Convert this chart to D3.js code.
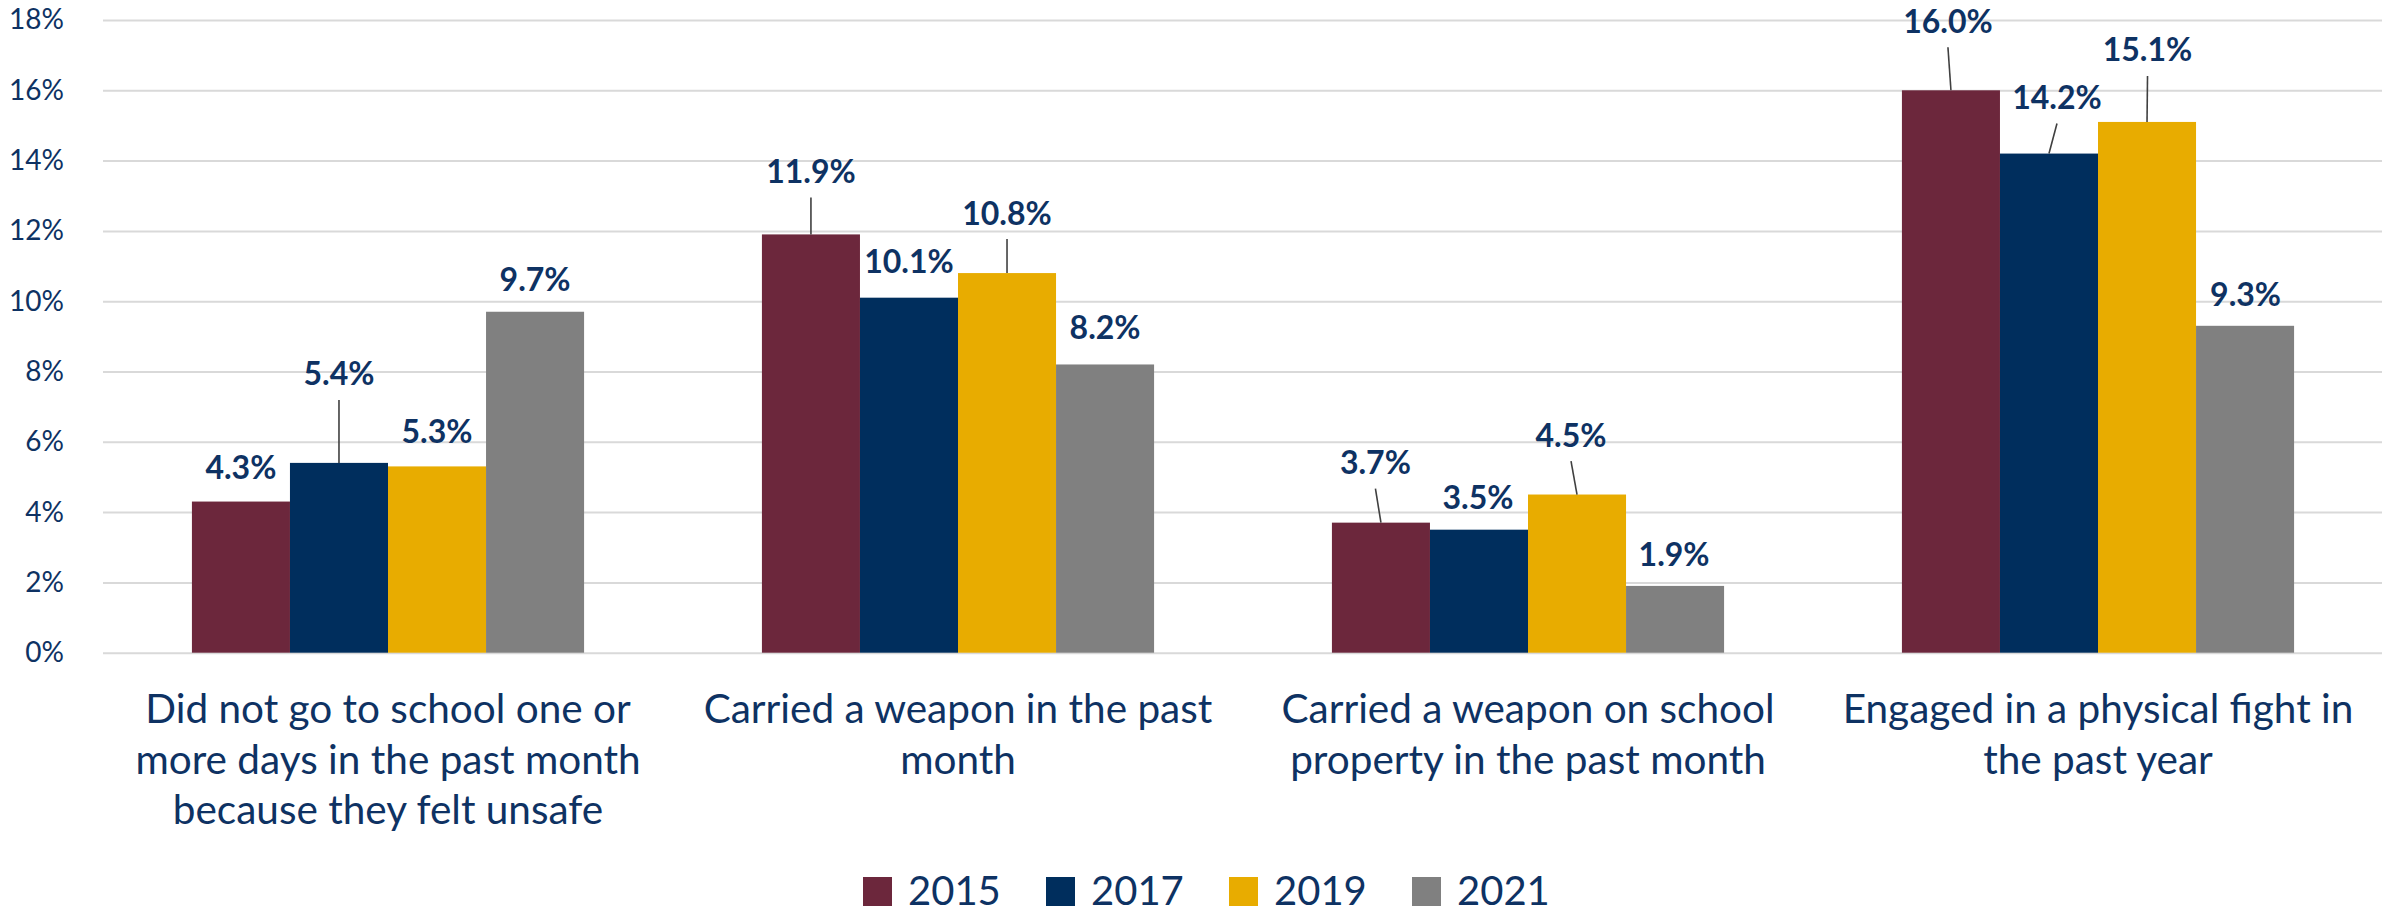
<!DOCTYPE html>
<html>
<head>
<meta charset="utf-8">
<script src="https://cdn.jsdelivr.net/npm/d3@7"></script>
<style>
  html, body { margin: 0; padding: 0; background: #ffffff; }
  svg { display: block; font-family: Lato, "Open Sans", sans-serif; }
</style>
</head>
<body>
<svg id="chart" width="2382" height="923"></svg>
<script>
// ---- data ----
const categoryLines = [
  ["Did not go to school one or", "more days in the past month", "because they felt unsafe"],
  ["Carried a weapon in the past", "month"],
  ["Carried a weapon on school", "property in the past month"],
  ["Engaged in a physical fight in", "the past year"]
];
const categories = categoryLines.map(l => l.join(" "));
const years = ["2015", "2017", "2019", "2021"];
const values2015 = [4.3, 11.9, 3.7, 16.0];
const values2017 = [5.4, 10.1, 3.5, 14.2];
const values2019 = [5.3, 10.8, 4.5, 15.1];
const values2021 = [9.7, 8.2, 1.9, 9.3];
const yTicks = [0, 2, 4, 6, 8, 10, 12, 14, 16, 18];

// ---- styling / layout ----
const seriesValues = { "2015": values2015, "2017": values2017, "2019": values2019, "2021": values2021 };
const colors = { "2015": "#6C273C", "2017": "#002E5D", "2019": "#E8AC00", "2021": "#808080" };
const textColor = "#0E3263";
// manual label nudges (px) [dx, dy of label centre relative to bar top], as in the original
const labelNudge = {
  "2015": [[0, -34], [0, -63], [-5.5, -60], [-3, -69]],
  "2017": [[0, -89], [0, -36], [-1, -32], [8, -56]],
  "2019": [[0, -35], [0, -60], [-6, -59.5], [0.5, -72]],
  "2021": [[0, -32], [0, -36.5], [-1, -31.5], [0.5, -31.5]]
};

const svg = d3.select("#chart");
const plotLeft = 103, plotRight = 2383, plotTop = 20, plotBottom = 652.7;

const x0 = d3.scaleBand().domain(categories).range([plotLeft, plotRight]).padding(0);
const bw = x0.bandwidth();
const x1 = d3.scaleBand().domain(years).range([bw * 0.156, bw * 0.844]).padding(0);
const y = d3.scaleLinear().domain([0, 18]).range([plotBottom, plotTop]);

// gridlines + y axis
const yAxis = d3.axisLeft(y)
  .tickValues(yTicks)
  .tickFormat(d => d + "%")
  .tickSizeInner(-(plotRight - plotLeft))
  .tickSizeOuter(0)
  .tickPadding(39);
const gy = svg.append("g").attr("transform", `translate(${plotLeft},0)`).call(yAxis);
gy.select(".domain").remove();
gy.selectAll(".tick line").attr("stroke", "#D9D9D9").attr("stroke-width", 2);
gy.selectAll(".tick text")
  .attr("fill", textColor)
  .style("font-family", "Lato, sans-serif")
  .style("font-size", "28px");

// bars
const groups = svg.append("g").selectAll("g")
  .data(categories)
  .join("g")
  .attr("transform", d => `translate(${x0(d)},0)`);

groups.selectAll("rect")
  .data((c, i) => years.map(yr => ({ yr, v: seriesValues[yr][i], i })))
  .join("rect")
  .attr("x", d => x1(d.yr))
  .attr("y", d => y(d.v))
  .attr("width", x1.bandwidth())
  .attr("height", d => y(0) - y(d.v))
  .attr("fill", d => colors[d.yr]);

// leader lines and data labels
const labelData = [];
categories.forEach((c, i) => {
  years.forEach(yr => {
    const v = seriesValues[yr][i];
    const [dx, dy] = labelNudge[yr][i];
    const bx = x0(c) + x1(yr) + x1.bandwidth() / 2;
    const by = y(v);
    labelData.push({ v, bx, by, lx: bx + dx, ly: by + dy, leader: dy < -45 });
  });
});

svg.append("g").selectAll("line")
  .data(labelData.filter(d => d.leader))
  .join("line")
  .attr("x1", d => d.lx)
  .attr("y1", d => d.ly + 26)
  .attr("x2", d => d.bx)
  .attr("y2", d => d.by)
  .attr("stroke", "#404040")
  .attr("stroke-width", 1.6);

svg.append("g").selectAll("text")
  .data(labelData)
  .join("text")
  .attr("x", d => d.lx)
  .attr("y", d => d.ly)
  .attr("dy", "0.36em")
  .attr("text-anchor", "middle")
  .attr("fill", textColor)
  .style("font-family", "Lato, sans-serif")
  .style("font-weight", "bold")
  .style("font-size", "32px")
  .text(d => d.v.toFixed(1) + "%");

// category labels
const lineY0 = 709, lineGap = 50.5;
svg.append("g").selectAll("text")
  .data(categories)
  .join("text")
  .attr("x", d => x0(d) + bw / 2)
  .attr("y", lineY0)
  .attr("text-anchor", "middle")
  .attr("fill", textColor)
  .style("font-family", "Lato, sans-serif")
  .style("font-size", "40.5px")
  .each(function (d, i) {
    d3.select(this).selectAll("tspan")
      .data(categoryLines[i])
      .join("tspan")
      .attr("x", x0(d) + bw / 2)
      .attr("y", (t, j) => lineY0 + j * lineGap)
      .attr("dy", "0.35em")
      .text(t => t);
  });

// legend
const legendX = d3.scalePoint().domain(years).range([863, 1412]);
const lg = svg.append("g").selectAll("g")
  .data(years)
  .join("g")
  .attr("transform", d => `translate(${legendX(d)},891)`);
lg.append("rect")
  .attr("x", 0).attr("y", -14)
  .attr("width", 29).attr("height", 29)
  .attr("fill", d => colors[d]);
lg.append("text")
  .attr("x", 45).attr("y", 0).attr("dy", "0.36em")
  .attr("fill", textColor)
  .style("font-family", "Lato, sans-serif")
  .style("font-size", "40px")
  .text(d => d);
</script>
</body>
</html>
